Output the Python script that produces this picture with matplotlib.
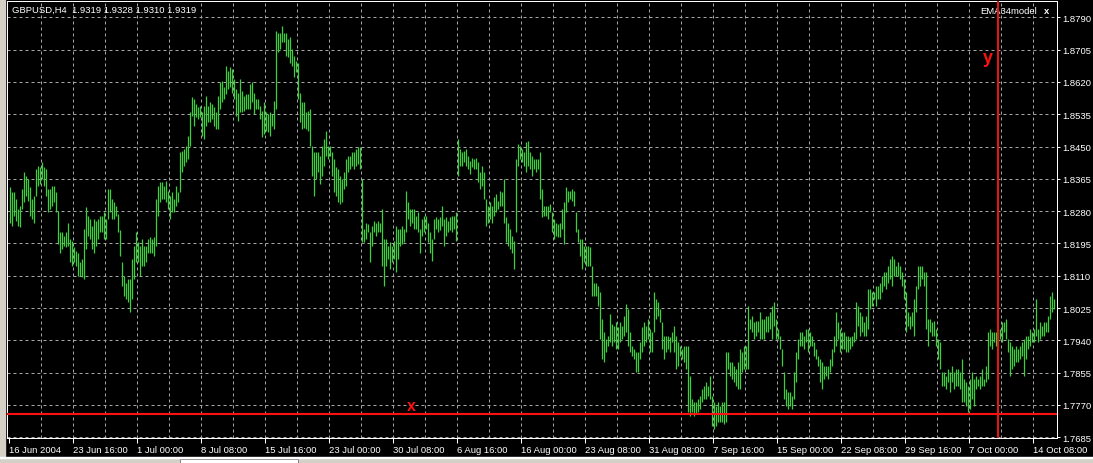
import numpy as np
import matplotlib.pyplot as plt
from matplotlib.patches import Rectangle

plt.rcParams['font.family'] = ['Liberation Sans', 'DejaVu Sans']

# GBPUSD H4 bars, 16 Jun 2004 - 14 Oct 2004 (high / low)
highs = [
    1.8343, 1.8329, 1.8329, 1.8312, 1.8285, 1.8294, 1.8338, 1.8382, 1.8373, 1.8364,
    1.8343, 1.8312, 1.8321, 1.8391, 1.8399, 1.8395, 1.8408, 1.8395, 1.8391, 1.8338,
    1.8338, 1.8347, 1.8347, 1.8329, 1.8281, 1.8224, 1.8224, 1.8215, 1.8224, 1.8250,
    1.8207, 1.8202, 1.8185, 1.8176, 1.8171, 1.8145, 1.8154, 1.8233, 1.8290, 1.8268,
    1.8259, 1.8242, 1.8259, 1.8255, 1.8259, 1.8268, 1.8268, 1.8277, 1.8259, 1.8338,
    1.8338, 1.8312, 1.8303, 1.8294, 1.8272, 1.8229, 1.8145, 1.8110, 1.8092, 1.8101,
    1.8101, 1.8154, 1.8189, 1.8224, 1.8198, 1.8189, 1.8207, 1.8189, 1.8189, 1.8207,
    1.8211, 1.8207, 1.8211, 1.8312, 1.8347, 1.8356, 1.8356, 1.8347, 1.8360, 1.8334,
    1.8321, 1.8329, 1.8312, 1.8347, 1.8329, 1.8435, 1.8439, 1.8443, 1.8452, 1.8478,
    1.8540, 1.8579, 1.8575, 1.8562, 1.8553, 1.8557, 1.8540, 1.8557, 1.8584, 1.8557,
    1.8566, 1.8562, 1.8553, 1.8540,
    1.8584, 1.8619, 1.8623, 1.8606, 1.8663, 1.8649, 1.8658, 1.8654, 1.8628, 1.8601,
    1.8592, 1.8628, 1.8597, 1.8584, 1.8588, 1.8588, 1.8614, 1.8619, 1.8592, 1.8575,
    1.8575, 1.8557, 1.8544, 1.8566, 1.8540, 1.8535, 1.8540, 1.8535, 1.8571, 1.8755,
    1.8750, 1.8750, 1.8768, 1.8750, 1.8750, 1.8733, 1.8737, 1.8706, 1.8689, 1.8676,
    1.8671, 1.8592, 1.8566, 1.8566, 1.8540, 1.8544, 1.8549, 1.8452, 1.8435, 1.8435,
    1.8435, 1.8426, 1.8452, 1.8470, 1.8492, 1.8452, 1.8452, 1.8435, 1.8417, 1.8395,
    1.8391, 1.8373, 1.8364, 1.8382, 1.8417, 1.8426, 1.8426, 1.8435, 1.8435, 1.8443,
    1.8448, 1.8448, 1.8364, 1.8233, 1.8250, 1.8246, 1.8224, 1.8242, 1.8255, 1.8250,
    1.8255, 1.8250, 1.8285, 1.8207, 1.8207, 1.8189, 1.8198, 1.8189, 1.8202, 1.8242,
    1.8233, 1.8233, 1.8242, 1.8233, 1.8334, 1.8303, 1.8285, 1.8285, 1.8285, 1.8268,
    1.8277, 1.8233, 1.8259, 1.8268, 1.8268,
    1.8250, 1.8224, 1.8207, 1.8259, 1.8264, 1.8259, 1.8264, 1.8294, 1.8259, 1.8264,
    1.8255, 1.8264, 1.8268, 1.8268, 1.8277, 1.8470, 1.8443, 1.8435, 1.8439, 1.8443,
    1.8426, 1.8413, 1.8421, 1.8417, 1.8421, 1.8408, 1.8382, 1.8399, 1.8382, 1.8312,
    1.8294, 1.8303, 1.8294, 1.8316, 1.8325, 1.8307, 1.8334, 1.8329, 1.8364, 1.8264,
    1.8250, 1.8233, 1.8215, 1.8202, 1.8417, 1.8456, 1.8452, 1.8443, 1.8435, 1.8461,
    1.8465, 1.8435, 1.8426, 1.8417, 1.8417, 1.8417, 1.8435, 1.8338, 1.8294, 1.8294,
    1.8294, 1.8299, 1.8277, 1.8259, 1.8250, 1.8246, 1.8250, 1.8285, 1.8303, 1.8343,
    1.8334, 1.8334, 1.8338, 1.8334, 1.8277, 1.8233, 1.8207, 1.8207, 1.8189, 1.8189,
    1.8189, 1.8185, 1.8136, 1.8092, 1.8092, 1.8084, 1.8066, 1.7996, 1.7961, 1.7943,
    1.7952, 1.8009, 1.7983, 1.7978, 1.7987, 1.7974, 1.7987, 1.7978, 1.8005, 1.8035,
    1.8022, 1.7961, 1.7926, 1.7917, 1.7908,
    1.7908, 1.7935, 1.7974, 1.7987, 1.7978, 1.7996, 1.7970, 1.7961, 1.8066, 1.8049,
    1.8040, 1.8022, 1.7987, 1.7952, 1.7952, 1.7952, 1.7948, 1.7961, 1.7978, 1.7952,
    1.7935, 1.7926, 1.7917, 1.7926, 1.7926, 1.7926, 1.7847, 1.7786, 1.7777, 1.7777,
    1.7786, 1.7794, 1.7812, 1.7821, 1.7829, 1.7821, 1.7847, 1.7794, 1.7777, 1.7768,
    1.7777, 1.7768, 1.7777, 1.7777, 1.7908, 1.7908, 1.7882, 1.7882, 1.7873, 1.7865,
    1.7882, 1.7917, 1.7908, 1.7926, 1.7926, 1.8031, 1.7996, 1.8005, 1.7987, 1.7992,
    1.7992, 1.8014, 1.7996, 1.7996, 1.8005, 1.8005, 1.8014, 1.8031, 1.8040, 1.7996,
    1.7970, 1.7952, 1.7917, 1.7856, 1.7812, 1.7803, 1.7803, 1.7794, 1.7856, 1.7908,
    1.7943, 1.7961, 1.7961, 1.7952, 1.7970, 1.7970, 1.7961, 1.7952, 1.7935, 1.7917,
    1.7900, 1.7891, 1.7882, 1.7873, 1.7873, 1.7873, 1.7891, 1.7917, 1.7952, 1.8014,
    1.7987, 1.7970, 1.7961, 1.7961, 1.7952,
    1.7952, 1.7948, 1.7952, 1.7961, 1.8040, 1.8031, 1.8014, 1.8005, 1.7987, 1.8005,
    1.8075, 1.8075, 1.8066, 1.8066, 1.8084, 1.8084, 1.8092, 1.8110, 1.8119, 1.8119,
    1.8136, 1.8154, 1.8163, 1.8154, 1.8136, 1.8145, 1.8136, 1.8119, 1.8101, 1.8066,
    1.8014, 1.8005, 1.8014, 1.8049, 1.8084, 1.8136, 1.8136, 1.8136, 1.8119, 1.8119,
    1.7996, 1.7996, 1.7987, 1.7992, 1.7970, 1.7943, 1.7935, 1.7856, 1.7856, 1.7847,
    1.7865, 1.7856, 1.7873, 1.7856, 1.7865, 1.7865, 1.7856, 1.7891, 1.7838, 1.7829,
    1.7821, 1.7838, 1.7856, 1.7838, 1.7847, 1.7838, 1.7847, 1.7865, 1.7838, 1.7873,
    1.7961, 1.7970, 1.7961, 1.7961, 1.7961, 1.7970, 1.7970, 1.7987, 1.7987, 1.7996,
    1.7943, 1.7935, 1.7926, 1.7917, 1.7926, 1.7917, 1.7926, 1.7935, 1.7943, 1.7952,
    1.7952, 1.7970, 1.7961, 1.7970, 1.8049, 1.7970, 1.7987, 1.7978, 1.7987, 1.7987,
    1.8005, 1.8057, 1.8066, 1.8049,
]

lows = [
    1.8250, 1.8242, 1.8268, 1.8255, 1.8242, 1.8237, 1.8285, 1.8303, 1.8321, 1.8307,
    1.8268, 1.8259, 1.8250, 1.8321, 1.8347, 1.8351, 1.8364, 1.8347, 1.8321, 1.8277,
    1.8285, 1.8294, 1.8303, 1.8277, 1.8193, 1.8171, 1.8180, 1.8189, 1.8185, 1.8189,
    1.8145, 1.8136, 1.8145, 1.8136, 1.8110, 1.8110, 1.8106, 1.8101, 1.8180, 1.8215,
    1.8207, 1.8180, 1.8171, 1.8189, 1.8207, 1.8224, 1.8224, 1.8207, 1.8207, 1.8259,
    1.8277, 1.8259, 1.8259, 1.8268, 1.8224, 1.8163, 1.8084, 1.8057, 1.8049, 1.8040,
    1.8014, 1.8049, 1.8101, 1.8145, 1.8145, 1.8110, 1.8136, 1.8136, 1.8145, 1.8171,
    1.8171, 1.8171, 1.8163, 1.8189, 1.8268, 1.8303, 1.8312, 1.8312, 1.8303, 1.8285,
    1.8259, 1.8277, 1.8277, 1.8294, 1.8303, 1.8329, 1.8382, 1.8399, 1.8408, 1.8417,
    1.8452, 1.8531, 1.8505, 1.8527, 1.8522, 1.8527, 1.8478, 1.8470, 1.8505, 1.8514,
    1.8514, 1.8522, 1.8505, 1.8496,
    1.8496, 1.8549, 1.8566, 1.8575, 1.8588, 1.8601, 1.8606, 1.8592, 1.8575, 1.8531,
    1.8518, 1.8540, 1.8540, 1.8544, 1.8549, 1.8549, 1.8549, 1.8566, 1.8535, 1.8549,
    1.8549, 1.8522, 1.8474, 1.8483, 1.8492, 1.8487, 1.8478, 1.8505, 1.8496, 1.8549,
    1.8698, 1.8706, 1.8724, 1.8724, 1.8689, 1.8685, 1.8671, 1.8663, 1.8632, 1.8645,
    1.8575, 1.8514, 1.8496, 1.8500, 1.8496, 1.8492, 1.8452, 1.8373, 1.8321, 1.8364,
    1.8382, 1.8351, 1.8373, 1.8399, 1.8426, 1.8417, 1.8426, 1.8373, 1.8329, 1.8321,
    1.8303, 1.8299, 1.8303, 1.8338, 1.8347, 1.8382, 1.8391, 1.8399, 1.8391, 1.8399,
    1.8404, 1.8391, 1.8198, 1.8198, 1.8207, 1.8224, 1.8145, 1.8189, 1.8224, 1.8215,
    1.8224, 1.8224, 1.8136, 1.8084, 1.8136, 1.8154, 1.8128, 1.8145, 1.8154, 1.8119,
    1.8154, 1.8189, 1.8193, 1.8198, 1.8224, 1.8259, 1.8242, 1.8250, 1.8233, 1.8233,
    1.8224, 1.8171, 1.8215, 1.8224, 1.8233,
    1.8198, 1.8171, 1.8150, 1.8207, 1.8233, 1.8224, 1.8229, 1.8242, 1.8189, 1.8215,
    1.8224, 1.8229, 1.8224, 1.8233, 1.8202, 1.8373, 1.8399, 1.8399, 1.8408, 1.8399,
    1.8391, 1.8378, 1.8395, 1.8391, 1.8391, 1.8356, 1.8338, 1.8347, 1.8312, 1.8242,
    1.8250, 1.8259, 1.8250, 1.8268, 1.8277, 1.8285, 1.8294, 1.8294, 1.8250, 1.8198,
    1.8189, 1.8180, 1.8171, 1.8128, 1.8224, 1.8399, 1.8417, 1.8408, 1.8399, 1.8382,
    1.8399, 1.8391, 1.8373, 1.8391, 1.8382, 1.8391, 1.8312, 1.8264, 1.8268, 1.8268,
    1.8259, 1.8277, 1.8224, 1.8207, 1.8215, 1.8211, 1.8211, 1.8233, 1.8193, 1.8277,
    1.8303, 1.8312, 1.8307, 1.8294, 1.8224, 1.8198, 1.8163, 1.8128, 1.8145, 1.8136,
    1.8136, 1.8136, 1.8057, 1.8057, 1.8057, 1.8031, 1.7943, 1.7891, 1.7882, 1.7908,
    1.7926, 1.7935, 1.7926, 1.7935, 1.7917, 1.7917, 1.7935, 1.7943, 1.7952, 1.7961,
    1.7926, 1.7908, 1.7900, 1.7891, 1.7856,
    1.7856, 1.7891, 1.7908, 1.7926, 1.7935, 1.7943, 1.7908, 1.7908, 1.7961, 1.7996,
    1.8005, 1.7987, 1.7917, 1.7891, 1.7908, 1.7917, 1.7908, 1.7935, 1.7908, 1.7865,
    1.7873, 1.7900, 1.7891, 1.7882, 1.7865, 1.7751, 1.7742, 1.7751, 1.7742, 1.7746,
    1.7751, 1.7759, 1.7777, 1.7786, 1.7786, 1.7794, 1.7786, 1.7715, 1.7707, 1.7715,
    1.7724, 1.7724, 1.7724, 1.7720, 1.7724, 1.7865, 1.7847, 1.7838, 1.7829, 1.7821,
    1.7812, 1.7812, 1.7856, 1.7865, 1.7865, 1.7865, 1.7970, 1.7961, 1.7943, 1.7952,
    1.7961, 1.7943, 1.7943, 1.7943, 1.7961, 1.7961, 1.7970, 1.7943, 1.7978, 1.7943,
    1.7943, 1.7917, 1.7873, 1.7786, 1.7768, 1.7759, 1.7768, 1.7759, 1.7786, 1.7829,
    1.7891, 1.7926, 1.7926, 1.7917, 1.7935, 1.7908, 1.7926, 1.7926, 1.7900, 1.7891,
    1.7873, 1.7829, 1.7812, 1.7838, 1.7847, 1.7838, 1.7856, 1.7873, 1.7908, 1.7926,
    1.7943, 1.7908, 1.7917, 1.7917, 1.7908,
    1.7908, 1.7917, 1.7926, 1.7935, 1.7943, 1.7978, 1.7952, 1.7961, 1.7952, 1.7952,
    1.7970, 1.8022, 1.8031, 1.8049, 1.8031, 1.8049, 1.8049, 1.8066, 1.8084, 1.8075,
    1.8092, 1.8101, 1.8084, 1.8110, 1.8110, 1.8110, 1.8101, 1.8084, 1.8049, 1.7961,
    1.7978, 1.7970, 1.7978, 1.7952, 1.8014, 1.8075, 1.8084, 1.8101, 1.8084, 1.7970,
    1.7926, 1.7961, 1.7952, 1.7952, 1.7926, 1.7891, 1.7865, 1.7821, 1.7821, 1.7812,
    1.7829, 1.7803, 1.7829, 1.7812, 1.7821, 1.7821, 1.7812, 1.7777, 1.7777, 1.7768,
    1.7751, 1.7759, 1.7786, 1.7768, 1.7812, 1.7821, 1.7812, 1.7821, 1.7821, 1.7829,
    1.7838, 1.7926, 1.7917, 1.7935, 1.7926, 1.7935, 1.7943, 1.7935, 1.7961, 1.7943,
    1.7908, 1.7847, 1.7865, 1.7873, 1.7882, 1.7882, 1.7891, 1.7900, 1.7847, 1.7891,
    1.7917, 1.7926, 1.7935, 1.7935, 1.7952, 1.7935, 1.7943, 1.7952, 1.7952, 1.7961,
    1.7961, 1.7996, 1.8014, 1.8022,
]

price_levels = [1.8790, 1.8705, 1.8620, 1.8535, 1.8450, 1.8365, 1.8280,
                1.8195, 1.8110, 1.8025, 1.7940, 1.7855, 1.7770, 1.7685]
date_labels = ['16 Jun 2004', '23 Jun 16:00', '1 Jul 00:00', '8 Jul 08:00',
               '15 Jul 16:00', '23 Jul 00:00', '30 Jul 08:00', '6 Aug 16:00',
               '16 Aug 00:00', '23 Aug 08:00', '31 Aug 08:00', '7 Sep 16:00',
               '15 Sep 00:00', '22 Sep 08:00', '29 Sep 16:00', '7 Oct 00:00',
               '14 Oct 08:00']
bars_per_label = 32
header = 'GBPUSD,H4  1.9319 1.9328 1.9310 1.9319'
hline_price = 1.7746    # red horizontal line "x"
vline_bar = 494.5       # red vertical line "y"

W, H = 1093, 464
fig = plt.figure(figsize=(W / 100, H / 100), dpi=100, facecolor='black')
ax = fig.add_axes([7 / W, (H - 439) / H, 1050 / W, 437 / H])
ax.set_facecolor('black')

n = len(highs)
idx = np.arange(n) + 0.25   # put each bar on a pixel centre
ax.vlines(idx, lows, highs, color='#3cd03c', lw=0.9, zorder=3)

ax.set_xlim(-1, 524)
ax.set_ylim(1.76829, 1.88329)

# dotted grid like the terminal
grid_kw = dict(color='#a6a6a6', lw=0.72, linestyle=(0, (3, 3)), zorder=1)
for p in price_levels:
    ax.axhline(p, **grid_kw)
for v in range(16, 524, 16):
    ax.axvline(v, **grid_kw)

# price scale on the right
ax.yaxis.tick_right()
ax.set_yticks(price_levels)
ax.set_yticklabels([f'{p:.4f}' for p in price_levels])
ax.tick_params(axis='y', colors='white', length=2.5, width=0.72, pad=1.2,
               labelsize=6.8)

# time scale
xt = [k * bars_per_label for k in range(len(date_labels))]
ax.set_xticks(xt)
ax.set_xticklabels(date_labels, ha='left')
ax.tick_params(axis='x', colors='white', length=3.8, width=0.72, pad=1.2,
               labelsize=6.8)

for s in ax.spines.values():
    s.set_color('white')
    s.set_linewidth(0.72)

# objects
ax.axhline(hline_price, color='#ff1010', lw=1.5, zorder=5)
ax.axvline(vline_bar, color='#e01818', lw=1.5, zorder=5)
ax.text(201, hline_price + 0.0003, 'x', color='#ff1010', fontsize=11.5,
        fontweight='bold', ha='center', va='bottom', zorder=6)
ax.text(489.5, 1.8672, 'y', color='#ff1010', fontsize=13,
        fontweight='bold', ha='center', va='baseline', zorder=6)

# labels drawn by the terminal
ax.text(12 / W, 1 - 13 / H, header, transform=fig.transFigure, color='white',
        fontsize=6.8, va='baseline', zorder=4)
ax.text(980 / W, 1 - 14 / H, 'EMA34model', transform=fig.transFigure,
        color='white', fontsize=6.8, va='baseline', zorder=4)
ax.text(1044 / W, 1 - 14 / H, 'x', transform=fig.transFigure, color='white',
        fontsize=6.8, fontweight='bold', va='baseline', zorder=4)

# window frame bits
fig.patches.append(Rectangle((0, 0), 5 / W, 1, transform=fig.transFigure,
                             color='#d4d0c8', zorder=0))
fig.patches.append(Rectangle((0, 0), 1, 5 / H, transform=fig.transFigure,
                             color='#d4d0c8', zorder=0))
fig.patches.append(Rectangle((180 / W, 0), 118 / W, 4 / H, transform=fig.transFigure,
                             facecolor='white', edgecolor='#808080', lw=0.7, zorder=1))
fig.patches.append(Rectangle((0, 5 / H), 1, 1 / H, transform=fig.transFigure,
                             color='white', zorder=1))

fig.savefig('out.png', dpi=100, facecolor='black')
